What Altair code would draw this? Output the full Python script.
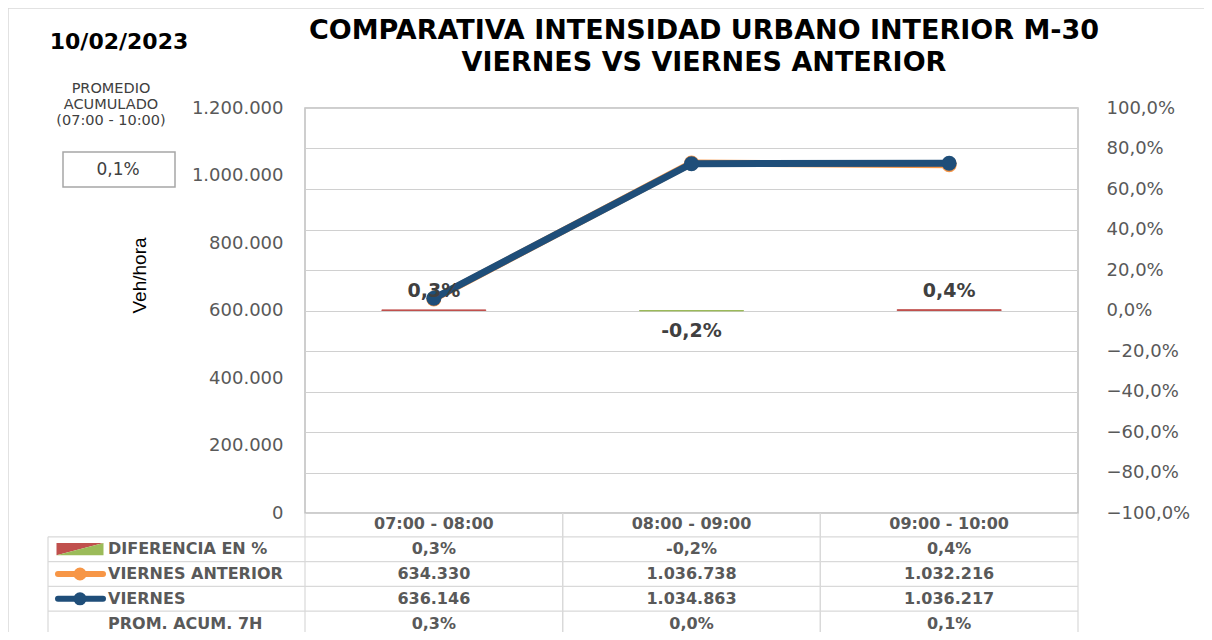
import altair as alt
import pandas as pd

# ---------------- data ----------------
categories = ["07:00 - 08:00", "08:00 - 09:00", "09:00 - 10:00"]
viernes_anterior = [634330, 1036738, 1032216]
viernes = [636146, 1034863, 1036217]
diferencia = [0.003, -0.002, 0.004]
prom_acum_7h = [0.003, 0.000, 0.001]
promedio_acumulado = 0.001
fecha = "10/02/2023"
titulo = ["COMPARATIVA INTENSIDAD URBANO INTERIOR M-30", "VIERNES VS VIERNES ANTERIOR"]
promedio_texto = ["PROMEDIO", "ACUMULADO", "(07:00 - 10:00)"]
row_keys = ["FRANJA", "DIFERENCIA EN %", "VIERNES ANTERIOR", "VIERNES", "PROM. ACUM. 7H"]
veh_ticks = [0, 200000, 400000, 600000, 800000, 1000000, 1200000]
pct_ticks = [-1.0, -0.8, -0.6, -0.4, -0.2, 0.0, 0.2, 0.4, 0.6, 0.8, 1.0]


def fmt_int(v):
    return f"{v:,.0f}".replace(",", ".")


def fmt_pct(v):
    return f"{v * 100:.1f}%".replace(".", ",")


df = pd.DataFrame({
    "franja": categories,
    "va": viernes_anterior,
    "v": viernes,
    "dif": diferencia,
    "prom": prom_acum_7h,
    "dif_label": [fmt_pct(d) for d in diferencia],
})

cells = []
for i, c in enumerate(categories):
    cells.append({"franja": c, "fila": row_keys[0], "texto": c})
    cells.append({"franja": c, "fila": row_keys[1], "texto": fmt_pct(diferencia[i])})
    cells.append({"franja": c, "fila": row_keys[2], "texto": fmt_int(viernes_anterior[i])})
    cells.append({"franja": c, "fila": row_keys[3], "texto": fmt_int(viernes[i])})
    cells.append({"franja": c, "fila": row_keys[4], "texto": fmt_pct(prom_acum_7h[i])})
table_df = pd.DataFrame(cells)
rows_df = pd.DataFrame({"fila": row_keys[1:]})
one = pd.DataFrame({"k": [0]})

# ---------------- styles ----------------
W, H = 773, 405
BLUE = "#1F4E79"
ORANGE = "#F79646"
RED = "#C0504D"
GREEN = "#9BBB59"
GRAY_TXT = "#595959"
LINE = "#D9D9D9"
FONT = "DejaVu Sans"

XS = alt.Scale(domain=categories, type="band", paddingInner=0, paddingOuter=0)
ROWS = alt.Scale(domain=row_keys, type="band", range=[404, 528], paddingInner=0, paddingOuter=0)
VEH = alt.Scale(domain=[0, 1200000], nice=False, zero=True)
PCT = alt.Scale(domain=[-1, 1], nice=False)

xc = alt.X("franja:N", scale=XS, bandPosition=0.5, axis=None)
yrow = alt.Y("fila:N", scale=ROWS, bandPosition=0.5, axis=None)

base = alt.Chart(df)

# frame of whole figure
frame_top = alt.Chart(one).mark_rule(color=LINE, strokeWidth=1.5).encode(
    x=alt.value(-297), x2=alt.value(899), y=alt.value(-100))
frame_left = alt.Chart(one).mark_rule(color=LINE, strokeWidth=1.5).encode(
    x=alt.value(-297), y=alt.value(-100), y2=alt.value(524))

# table grid
t_hlines = alt.Chart(rows_df).mark_rule(color=LINE, strokeWidth=1.2).encode(
    y=alt.Y("fila:N", scale=ROWS, bandPosition=0, axis=None),
    x=alt.value(-257), x2=alt.value(W))
t_vlines0 = base.mark_rule(color=LINE, strokeWidth=1.2).encode(
    x=alt.X("franja:N", scale=XS, bandPosition=0, axis=None),
    y=alt.value(H), y2=alt.value(540))
t_vlines1 = base.mark_rule(color=LINE, strokeWidth=1.2).encode(
    x=alt.X("franja:N", scale=XS, bandPosition=1, axis=None),
    y=alt.value(H), y2=alt.value(540))
t_left = alt.Chart(rows_df).transform_filter(alt.datum.fila == row_keys[1]).mark_rule(
    color=LINE, strokeWidth=1.2).encode(
    y=alt.Y("fila:N", scale=ROWS, bandPosition=0, axis=None),
    y2=alt.value(540), x=alt.value(-257))

# difference bars (right axis)
bars = base.mark_bar(strokeWidth=1, width=104).encode(
    x=alt.X("franja:N", scale=XS, axis=None),
    y=alt.Y("dif:Q", scale=PCT, axis=alt.Axis(
        orient="right", values=pct_ticks, format=".1%", grid=True, gridColor="#D0D0D0",
        gridWidth=1.2, ticks=False, tickSize=0, domain=False, labelPadding=28,
        labelFontSize=18, labelFont=FONT, labelColor=GRAY_TXT, title=None)),
    y2=alt.datum(0),
    color=alt.condition(alt.datum.dif >= 0, alt.value(RED), alt.value(GREEN)),
    stroke=alt.condition(alt.datum.dif >= 0, alt.value(RED), alt.value(GREEN)),
)
lab_pos = base.transform_filter(alt.datum.dif >= 0).mark_text(
    dy=-19, fontSize=19, fontWeight="bold", font=FONT, color="#404040").encode(
    x=xc, y=alt.Y("dif:Q", scale=PCT, axis=None), text="dif_label:N")
lab_neg = base.transform_filter(alt.datum.dif < 0).mark_text(
    dy=20, fontSize=19, fontWeight="bold", font=FONT, color="#404040").encode(
    x=xc, y=alt.Y("dif:Q", scale=PCT, axis=None), text="dif_label:N")

# lines (left axis)
or_line = base.mark_line(color=ORANGE, strokeWidth=7).encode(
    x=xc, y=alt.Y("va:Q", scale=VEH, axis=None))
or_pts = base.mark_point(filled=True, size=225, color=ORANGE, opacity=1).encode(
    x=xc, y=alt.Y("va:Q", scale=VEH, axis=None))
bl_line = base.mark_line(color=BLUE, strokeWidth=7).encode(
    x=xc, y=alt.Y("v:Q", scale=VEH, axis=alt.Axis(
        orient="left", values=veh_ticks, format=",.0f", grid=False, ticks=False, tickSize=0,
        domain=False, labelPadding=22, labelFontSize=18, labelFont=FONT, labelColor=GRAY_TXT,
        title="Veh/hora", titleFont="Liberation Sans", titleFontSize=19, titleFontWeight="normal",
        titleColor="black", titleAngle=270, titleX=-166, titleY=167,
        titleBaseline="middle", titleAlign="center")))
bl_pts = base.mark_point(filled=True, size=225, color=BLUE, opacity=1).encode(
    x=xc, y=alt.Y("v:Q", scale=VEH, axis=None))

# table text
t_text = alt.Chart(table_df).mark_text(
    fontSize=16, fontWeight="bold", font=FONT, color=GRAY_TXT).encode(
    x=xc, y=yrow, text="texto:N")
t_rowlab = alt.Chart(rows_df).mark_text(
    align="left", fontSize=16, fontWeight="bold", font=FONT, color=GRAY_TXT).encode(
    x=alt.value(-197), y=yrow, text="fila:N")

# legend icons in the table
tri_red = alt.Chart(rows_df).transform_filter(alt.datum.fila == row_keys[1]).mark_point(
    filled=True, opacity=1, color=RED, size=2209,
    shape="M -1 -0.26 L 1 -0.26 L -1 0.26 Z").encode(x=alt.value(-225), y=yrow)
tri_green = alt.Chart(rows_df).transform_filter(alt.datum.fila == row_keys[1]).mark_point(
    filled=True, opacity=1, color=GREEN, size=2209,
    shape="M 1 -0.26 L 1 0.26 L -1 0.26 Z").encode(x=alt.value(-225), y=yrow)
ic_or = alt.Chart(rows_df).transform_filter(alt.datum.fila == row_keys[2]).mark_rule(
    color=ORANGE, strokeWidth=6, strokeCap="round").encode(
    x=alt.value(-247), x2=alt.value(-202), y=yrow)
ic_or_pt = alt.Chart(rows_df).transform_filter(alt.datum.fila == row_keys[2]).mark_point(
    filled=True, opacity=1, color=ORANGE, size=170).encode(x=alt.value(-225), y=yrow)
ic_bl = alt.Chart(rows_df).transform_filter(alt.datum.fila == row_keys[3]).mark_rule(
    color=BLUE, strokeWidth=6, strokeCap="round").encode(
    x=alt.value(-247), x2=alt.value(-202), y=yrow)
ic_bl_pt = alt.Chart(rows_df).transform_filter(alt.datum.fila == row_keys[3]).mark_point(
    filled=True, opacity=1, color=BLUE, size=170).encode(x=alt.value(-225), y=yrow)

# annotations
title1 = alt.Chart(one).mark_text(fontSize=27, fontWeight="bold", font=FONT, color="black").encode(
    x=alt.value(399), y=alt.value(-77), text=alt.value(titulo[0]))
title2 = alt.Chart(one).mark_text(fontSize=27, fontWeight="bold", font=FONT, color="black").encode(
    x=alt.value(399), y=alt.value(-45), text=alt.value(titulo[1]))
date_t = alt.Chart(one).mark_text(fontSize=22, fontWeight="bold", font=FONT, color="black").encode(
    x=alt.value(-186), y=alt.value(-66), text=alt.value(fecha))
prom_t = alt.Chart(one).mark_text(fontSize=14.5, font=FONT, color="#404040", lineHeight=16).encode(
    x=alt.value(-194), y=alt.value(-19), text=alt.value(promedio_texto))
prom_box = alt.Chart(one).mark_rect(fill="white", stroke="#A6A6A6", strokeWidth=1.5).encode(
    x=alt.value(-242), x2=alt.value(-130), y=alt.value(44), y2=alt.value(79))
prom_val = alt.Chart(one).mark_text(fontSize=17, font=FONT, color="#404040").encode(
    x=alt.value(-187), y=alt.value(62), text=alt.value(fmt_pct(promedio_acumulado)))

chart = alt.layer(
    frame_top, frame_left, t_hlines, t_vlines0, t_vlines1, t_left,
    bars, or_line, or_pts, bl_line, bl_pts, lab_pos, lab_neg,
    t_text, t_rowlab, tri_red, tri_green, ic_or, ic_or_pt, ic_bl, ic_bl_pt,
    title1, title2, date_t, prom_box, prom_t, prom_val,
).resolve_scale(y="independent").properties(
    width=W, height=H,
    autosize=alt.AutoSizeParams(type="none"),
    padding={"left": 297, "top": 100, "right": 126, "bottom": 119},
    background="white",
).configure_view(stroke="#BFBFBF", strokeWidth=1.5)

chart.save("out.html", embed_options={
    "renderer": "svg", "actions": False,
    "formatLocale": {"decimal": ",", "thousands": ".", "grouping": [3], "currency": ["", " €"]},
})
